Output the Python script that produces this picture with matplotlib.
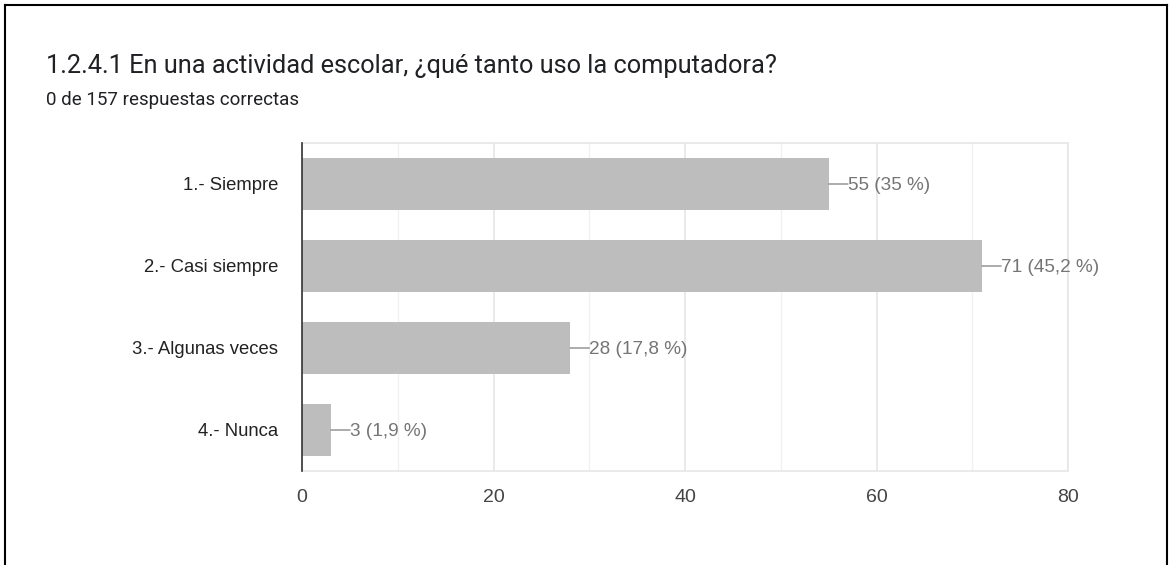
import matplotlib
matplotlib.use("Agg")
import matplotlib.pyplot as plt
from matplotlib.lines import Line2D

categories = ["1.- Siempre", "2.- Casi siempre", "3.- Algunas veces", "4.- Nunca"]
counts = [55, 71, 28, 3]
labels = ["55 (35 %)", "71 (45,2 %)", "28 (17,8 %)", "3 (1,9 %)"]
xticks = [0, 20, 40, 60, 80]
title = "1.2.4.1 En una actividad escolar, ¿qué tanto uso la computadora?"
subtitle = "0 de 157 respuestas correctas"

plt.rcParams['font.family'] = ['Liberation Sans', 'DejaVu Sans']
title_font = ['Roboto', 'DejaVu Sans']

W, H = 1172, 565
fig = plt.figure(figsize=(W / 100, H / 100), dpi=100)
ax = fig.add_axes([302 / W, 1 - 471 / H, (1068 - 302) / W, (471 - 143) / H])

y = list(range(len(categories)))
ax.barh(y, counts, height=0.635, color="#bdbdbd", zorder=3)
ax.set_ylim(3.5, -0.5)
ax.set_xlim(0, 80)
ax.set_yticks(y)
ax.set_yticklabels(categories, fontsize=13.3, color="#222222")
ax.set_xticks(xticks)
ax.set_xticklabels([str(t) for t in xticks], fontsize=14, color="#444444")
ax.set_xticks(range(10, 80, 20), minor=True)
ax.tick_params(axis='both', which='both', length=0)
ax.tick_params(axis='y', pad=17)
ax.tick_params(axis='x', pad=13)
ax.grid(axis='x', which='major', color="#e6e6e6", linewidth=1.2, zorder=0)
ax.grid(axis='x', which='minor', color="#f1f1f1", linewidth=1.0, zorder=0)
for s in ['top', 'right', 'bottom']:
    ax.spines[s].set_color("#e6e6e6")
    ax.spines[s].set_linewidth(1.2)
ax.spines['left'].set_color("#333333")
ax.spines['left'].set_linewidth(1.2)
ax.spines['left'].set_zorder(5)

for yi, c, lab in zip(y, counts, labels):
    ax.annotate("", xy=(c, yi), xytext=(c + 2.0, yi),
                arrowprops=dict(arrowstyle="-", color="#9e9e9e", lw=1.2,
                                shrinkA=0, shrinkB=0), zorder=4)
    ax.text(c + 2.0, yi, lab, va='center_baseline', ha='left', fontsize=13.7,
            color="#757575", zorder=4)

fig.text(46 / W, 1 - 73 / H, title, fontsize=18.3, color="#202124",
         va='baseline', ha='left', family=title_font)
fig.text(46 / W, 1 - 105 / H, subtitle, fontsize=13.5, color="#202124",
         va='baseline', ha='left', family=title_font)

# outer frame
for (xs, ys) in [([5 / W, 5 / W], [0, 1 - 5 / H]),
                 ([5 / W, 1167 / W], [1 - 5 / H, 1 - 5 / H]),
                 ([1167 / W, 1167 / W], [1 - 5 / H, 0])]:
    fig.add_artist(Line2D(xs, ys, color="black", linewidth=1.5,
                          transform=fig.transFigure))

fig.savefig("out.png", dpi=100)
